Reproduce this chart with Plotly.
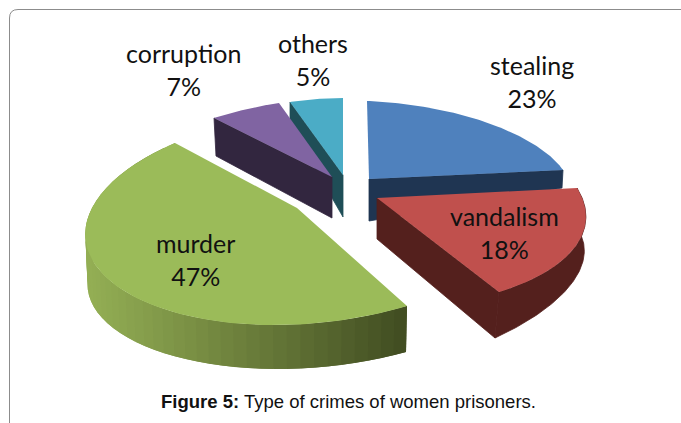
import numpy as np
import plotly.graph_objects as go

categories = ["stealing", "vandalism", "murder", "corruption", "others"]
values = [23, 18, 47, 7, 5]
top_colors = ["#4F81BD", "#C0504D", "#9BBB59", "#8064A2", "#4BACC6"]
wall_colors = ["#1F3552", "#54201D", "#3F4A20", "#32263F", "#1F4E57"]
caption_bold = "Figure 5:"
caption_text = "Type of crimes of women prisoners."

# Picture calibration of the distorted 3D projection: slice apex, and three rim
# points (start, middle, end of the slice's angular span), for top and bottom faces.
apex_top = [(369, 179), (377, 198), (297, 208), (332, 177), (343, 175)]
apex_bot = [(369, 221), (377, 239), (297, 250), (332, 218), (343, 217)]
rim_top = [
    [(367, 101), (488, 123), (563, 170)],
    [(577, 188), (575, 247), (499, 292)],
    [(407, 306), (118, 287), (175, 143)],
    [(214, 118), (247, 109), (279, 103)],
    [(290, 102), (317, 99), (343, 98)],
]
rim_bot = [
    [(367, 140), (488, 143), (562, 188)],
    [(577, 228), (572, 283), (495, 338)],
    [(406, 352), (120, 333), (176, 200)],
    [(216, 156), (247, 150), (279, 145)],
    [(290, 125), (317, 125), (343, 125)],
]
label_xy = [(532, 81.5), (504, 232.5), (195, 259.5), (183, 69.5), (313, 59.5)]
radial_wall_at = ["end", "end", None, "start", "start"]
outer_wall = [False, True, True, False, False]
draw_order = [4, 0, 3, 1, 2]

cum = np.concatenate([[0], np.cumsum(values)]) / sum(values) * 2 * np.pi


def rim_fn(a0, a1, pts):
    am = (a0 + a1) / 2
    M = np.array([[1, np.sin(a), np.cos(a)] for a in (a0, am, a1)])
    cx = np.linalg.solve(M, [p[0] for p in pts])
    cy = np.linalg.solve(M, [p[1] for p in pts])

    def f(a):
        basis = np.stack([np.ones_like(a), np.sin(a), np.cos(a)])
        return cx @ basis, cy @ basis

    return f


def mix(c1, c2, t):
    a = [int(c1[i:i + 2], 16) for i in (1, 3, 5)]
    b = [int(c2[i:i + 2], 16) for i in (1, 3, 5)]
    return "rgb({},{},{})".format(*[round(u + (v - u) * t) for u, v in zip(a, b)])


fig = go.Figure()


def poly(xs, ys, color, lw=0.0):
    fig.add_trace(go.Scatter(
        x=list(xs) + [xs[0]], y=list(ys) + [ys[0]], mode="lines", fill="toself",
        fillcolor=color, line=dict(color=color, width=lw),
        hoverinfo="skip", showlegend=False))


for i in draw_order:
    a0, a1 = cum[i], cum[i + 1]
    ft = rim_fn(a0, a1, rim_top[i])
    fb = rim_fn(a0, a1, rim_bot[i])
    ang = np.linspace(a0, a1, 90)
    tx, ty = ft(ang)
    bx, by = fb(ang)
    # outer wall: shaded overlapping strips for murder, a flat band otherwise
    if outer_wall[i]:
        if categories[i] == "murder":
            n = 48
            edges = np.linspace(a1, a0, n + 1)
            ex, ey = ft(edges)
            gx, gy = fb(edges)
            for k in range(n):
                m = min(k + 2, n)
                t = np.clip((ex[k] - 88) / (406 - 88), 0, 1)
                col = mix("#93AE54", "#3F4A20", t)
                poly([ex[k], ex[k + 1], ex[m], gx[m], gx[k + 1], gx[k]],
                     [ey[k], ey[k + 1], ey[m], gy[m], gy[k + 1], gy[k]], col)
        else:
            poly(list(tx) + list(bx[::-1]), list(ty) + list(by[::-1]), wall_colors[i], 0.8)
    # radial wall facing the viewer
    if radial_wall_at[i]:
        j = 0 if radial_wall_at[i] == "start" else -1
        poly([apex_top[i][0], tx[j], bx[j], apex_bot[i][0]],
             [apex_top[i][1], ty[j], by[j], apex_bot[i][1]], wall_colors[i], 0.8)
    # top face
    poly([apex_top[i][0]] + list(tx), [apex_top[i][1]] + list(ty), top_colors[i])

annotations = [
    dict(x=x, y=y, xref="x", yref="y", showarrow=False,
         text=f"{c}<br>{v}%", align="center",
         font=dict(family="Lato", size=25, color="#111111"))
    for c, v, (x, y) in zip(categories, values, label_xy)
]
annotations.append(dict(
    x=348.5, y=401, xref="x", yref="y", showarrow=False,
    text=f"<b>{caption_bold}</b> {caption_text}",
    font=dict(family="Liberation Sans", size=18.5, color="#111111")))

frame = "M 9.5 423 L 9.5 18 Q 9.5 9.5 18 9.5 L 681 9.5"

fig.update_layout(
    width=681, height=423, margin=dict(l=0, r=0, t=0, b=0),
    paper_bgcolor="white", plot_bgcolor="white",
    xaxis=dict(range=[0, 681], visible=False, fixedrange=True),
    yaxis=dict(range=[423, 0], visible=False, fixedrange=True),
    annotations=annotations,
    shapes=[dict(type="path", path=frame, xref="x", yref="y",
                 line=dict(color="#8C8C8C", width=1), layer="below")],
)
fig.write_html("out.html", config={"displayModeBar": False},
               post_script="document.body.style.margin='0';")
